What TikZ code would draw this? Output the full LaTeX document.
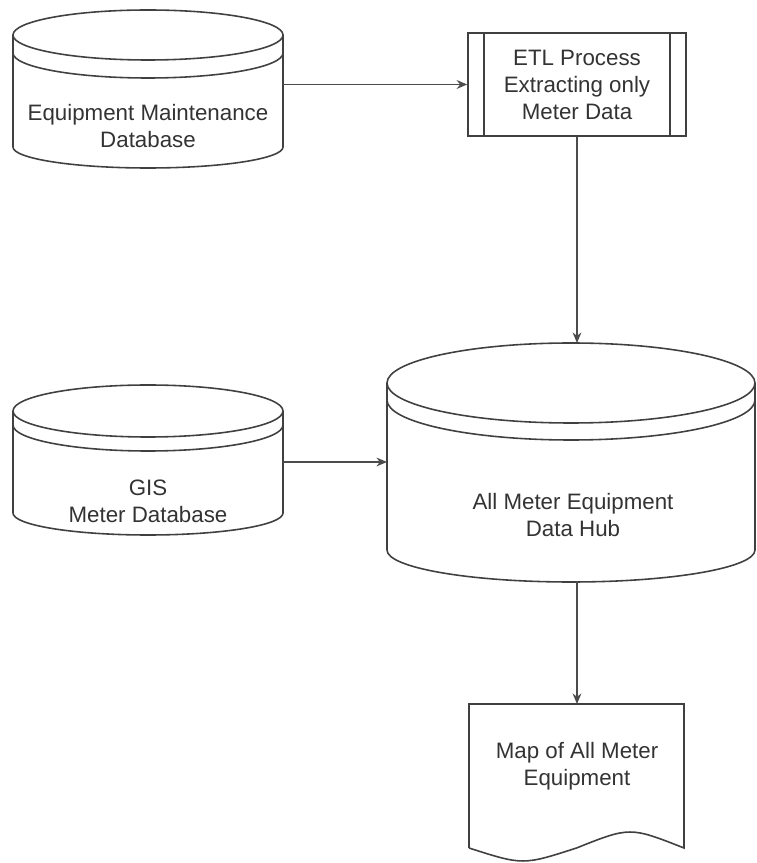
\documentclass[tikz,border=0pt]{standalone}
\usepackage{fontspec}
\setmainfont{Liberation Sans}
\usepackage{tikz}
\usetikzlibrary{arrows.meta}
\tikzset{shapeline/.style={draw=black!75,line width=0.9pt}}
\tikzset{flow/.style={draw=black!70,line width=0.9pt,-{Stealth[length=6pt,width=5pt]}}}
\tikzset{label text/.style={align=center,text=black!80,font=\fontsize{12.7}{15.4}\selectfont}}

\begin{document}
\begin{tikzpicture}[x=0.02cm,y=0.02cm]
\useasboundingbox (0,0) rectangle (757,863);
% equipment maintenance database
\draw[shapeline] (148,828) ellipse [x radius=135,y radius=25];
\draw[shapeline] (13,810) arc[start angle=180,end angle=360,x radius=135,y radius=25];
\draw[shapeline] (13,828) -- (13,716) arc[start angle=180,end angle=360,x radius=135,y radius=21] -- (283,828);
\node[label text] (equipdb) at (148,737) {Equipment Maintenance\\Database};
\coordinate (equipR) at (283,778.5);
% etl process
\node[label text,shapeline,minimum width=4.36cm,minimum height=2.06cm] (etl) at (577,778.5) {ETL Process\\Extracting only\\Meter Data};
\draw[shapeline] ([xshift=0.34cm]etl.north west) -- ([xshift=0.34cm]etl.south west);
\draw[shapeline] ([xshift=-0.34cm]etl.north east) -- ([xshift=-0.34cm]etl.south east);
% gis meter database
\draw[shapeline] (148,452) ellipse [x radius=135,y radius=26];
\draw[shapeline] (13,438) arc[start angle=180,end angle=360,x radius=135,y radius=26];
\draw[shapeline] (13,452) -- (13,350) arc[start angle=180,end angle=360,x radius=135,y radius=22] -- (283,452);
\node[label text] (gisdb) at (148,362) {GIS\\Meter Database};
\coordinate (gisR) at (283,401);
% data hub
\draw[shapeline] (571,480) ellipse [x radius=184,y radius=40];
\draw[shapeline] (387,463) arc[start angle=180,end angle=360,x radius=184,y radius=40];
\draw[shapeline] (387,480) -- (387,313) arc[start angle=180,end angle=360,x radius=184,y radius=32] -- (755,480);
\node[label text] (hub) at (573,348) {All Meter Equipment\\Data Hub};
\coordinate (hubT) at (577,520);
\coordinate (hubL) at (387,401);
\coordinate (hubB) at (577,281.5);
% map document
\draw[shapeline] (469,15) -- (469,159) -- (684,159) -- (684,15) .. controls (630,36.3) .. (576.5,15) .. controls (523,-2.3) .. (469,15);
\node[label text] (map) at (577,97) {Map of All Meter\\Equipment};
\coordinate (mapT) at (577,159);
% connectors
\draw[flow] (equipR) -- (etl.west);
\draw[flow] (etl.south) -- (hubT);
\draw[flow] (gisR) -- (hubL);
\draw[flow] (hubB) -- (mapT);
\end{tikzpicture}
\end{document}
